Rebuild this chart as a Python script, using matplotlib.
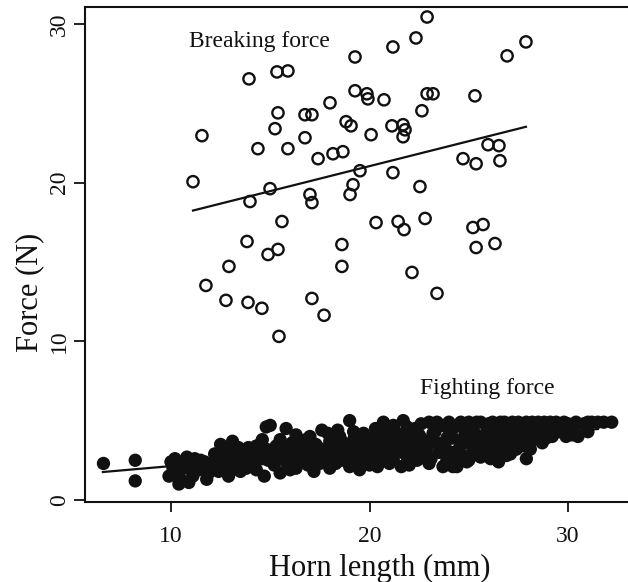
import matplotlib
matplotlib.use("Agg")
import matplotlib.pyplot as plt

# Breaking force (open circles)
break_x = [19.27, 13.93, 15.34, 15.89, 19.27, 18.01, 15.39, 16.75, 17.10, 18.82,
           19.07, 11.56, 15.24, 16.75, 14.38, 15.89, 17.41, 18.16, 18.66, 11.11,
           19.52, 22.90, 22.34, 21.18, 27.88, 26.93, 19.87, 19.92, 20.73, 22.90,
           23.20, 25.31, 22.64, 21.13, 21.69, 21.79, 21.69, 20.08, 25.97, 26.52,
           24.71, 25.37, 26.57, 21.18, 14.99, 13.98, 17.00, 17.10, 19.17, 19.02,
           15.59, 13.83, 14.89, 15.39, 12.92, 18.61, 18.61, 11.76, 12.77, 13.88,
           14.58, 17.10, 17.71, 15.44, 22.54, 20.33, 21.44, 21.74, 22.80, 25.21,
           25.72, 25.37, 26.32, 22.14, 23.40]
break_y = [27.92, 26.54, 26.98, 27.04, 25.79, 25.03, 24.40, 24.28, 24.28, 23.84,
           23.58, 22.96, 23.40, 22.83, 22.14, 22.14, 21.51, 21.82, 21.95, 20.06,
           20.75, 30.44, 29.12, 28.55, 28.87, 27.99, 25.60, 25.28, 25.22, 25.60,
           25.60, 25.47, 24.53, 23.58, 23.65, 23.33, 22.89, 23.02, 22.39, 22.33,
           21.51, 21.19, 21.38, 20.63, 19.62, 18.81, 19.25, 18.74, 19.87, 19.25,
           17.55, 16.29, 15.47, 15.79, 14.72, 16.10, 14.72, 13.52, 12.58, 12.45,
           12.08, 12.70, 11.64, 10.31, 19.75, 17.48, 17.55, 17.04, 17.74, 17.17,
           17.36, 15.91, 16.16, 14.34, 13.02]

# Fighting force (filled circles)
fight_x = [6.6, 8.2, 8.2,
           9.9, 10.0, 10.1, 10.3, 10.4, 10.5, 10.7, 10.8, 10.9, 11.0, 11.1, 11.3, 11.5, 11.6, 11.8, 11.9,
           12.1, 12.3, 12.4, 12.5, 12.6, 12.7, 12.9, 13.0, 13.1, 13.1, 13.3, 13.4, 13.6, 13.7, 13.8,
           14.0, 14.1, 14.2, 14.4, 14.5, 14.6, 14.7, 14.8, 14.9, 15.0, 15.0,
           15.2, 15.3, 15.5, 15.6, 15.8, 15.9, 16.0, 16.1, 16.3, 16.4, 16.5, 16.7, 16.8, 16.9, 17.0,
           17.2, 17.3, 17.5, 17.6, 17.7, 17.8, 18.0, 18.1, 18.2, 18.4, 18.5, 18.6, 18.7, 18.9, 19.0,
           19.1, 19.2, 19.4, 19.5, 19.6, 19.7, 19.8, 19.9,
           20.0, 20.2, 20.3, 20.4, 20.5, 20.7, 20.8, 20.9, 21.0, 21.2, 21.3, 21.4, 21.6, 21.7, 21.8,
           21.9, 22.0, 22.2, 22.3, 22.4, 22.6, 22.7, 22.9, 23.0, 23.1, 23.2, 23.4, 23.5, 23.6, 23.7,
           23.8, 23.9, 24.0, 24.2, 24.2, 24.4, 24.5, 24.6, 24.7, 24.8, 24.9,
           25.0, 25.1, 25.2, 25.4, 25.5, 25.6, 25.6, 25.8, 25.9, 26.0, 26.2, 26.3, 26.5, 26.5, 26.7,
           26.8, 26.9, 27.0, 27.2, 27.4, 27.5, 27.6, 27.8, 27.9, 28.0, 28.2, 28.3, 28.5, 28.7, 28.8,
           29.0, 29.2, 29.4, 29.6, 29.9, 30.0,
           30.3, 30.5, 30.8, 31.0, 31.2, 31.5, 31.8, 32.2,
           10.2, 10.6, 11.2, 11.4, 10.4, 11.7,
           12.2, 12.8, 13.2, 13.5, 13.9, 14.3, 14.6, 12.9, 13.5, 14.3, 14.8, 12.5,
           15.1, 15.4, 15.7, 15.8, 16.2, 16.4, 16.6, 16.9, 17.1, 17.3, 17.6, 17.9, 18.2, 18.3, 18.6,
           18.8, 19.0, 19.3, 19.5, 19.8, 15.5, 16.3, 17.0, 17.9, 19.2, 18.4, 16.0, 17.2, 18.0, 19.0,
           20.1, 20.4, 20.6, 20.9, 21.1, 21.3, 21.5, 21.8, 22.0, 22.1, 22.4, 22.5, 22.8, 23.0, 23.1,
           23.3, 23.6, 23.9, 24.1, 24.3, 24.4, 24.6, 24.9, 24.8, 20.3, 20.6, 21.2, 21.9, 22.6, 23.4,
           24.0, 20.0, 21.0, 22.0, 23.0, 23.8,
           25.1, 25.3, 25.3, 25.7, 25.9, 26.1, 26.2, 26.4, 26.6, 26.8, 27.0, 27.1, 27.3, 27.6, 27.7,
           28.0, 28.1, 28.4, 28.6, 28.9, 29.1, 29.3, 29.7, 30.1, 25.0, 25.4, 26.0, 26.6, 27.2, 27.9,
           28.5, 29.1, 29.8, 30.4, 31.0, 30.2]
fight_y = [2.3, 2.5, 1.2,
           1.5, 2.4, 2.0, 1.7, 2.2, 1.3, 2.5, 2.7, 1.1, 1.9, 1.5, 2.3, 2.5, 2.0, 1.3, 1.7,
           2.2, 2.6, 1.8, 3.5, 3.0, 2.3, 2.0, 2.7, 3.7, 1.9, 2.4, 3.3, 2.9, 2.2, 2.0,
           2.6, 3.1, 2.3, 2.8, 3.5, 3.8, 1.5, 4.6, 2.5, 4.7, 3.0,
           2.2, 3.4, 1.7, 2.7, 4.5, 3.0, 2.4, 3.6, 2.0, 2.9, 3.3, 2.5, 3.8, 2.2, 3.1,
           2.7, 3.5, 2.3, 4.4, 3.0, 2.6, 3.7, 2.4, 3.2, 2.8, 4.0, 2.5, 3.4, 3.0, 5.0,
           2.7, 3.8, 2.3, 1.9, 3.3, 4.2, 2.9, 3.6,
           2.6, 3.9, 3.1, 2.1, 3.5, 4.9, 2.8, 4.3, 3.3, 2.5, 3.8, 3.0, 2.1, 5.0, 4.1,
           2.7, 3.5, 3.1, 4.5, 2.5, 3.9, 2.9, 3.3, 4.9, 2.6, 4.2, 3.6, 3.0, 4.7, 2.1,
           3.4, 2.6, 4.4, 3.9, 2.1, 2.1, 3.2, 4.9, 2.8, 4.1, 3.6,
           2.5, 4.6, 3.3, 3.9, 2.8, 4.9, 2.7, 3.5, 4.3, 3.0, 4.9, 3.7, 2.4, 4.1, 3.3,
           4.9, 2.8, 4.5, 3.6, 3.2, 4.9, 4.0, 3.4, 2.6, 4.6, 4.9, 3.8, 4.2, 3.6, 4.9,
           4.4, 4.0, 4.9, 4.3, 4.0, 4.8,
           4.5, 4.0, 4.8, 4.3, 4.9, 4.9, 4.9, 4.9,
           2.6, 2.0, 2.6, 1.9, 1.0, 2.4,
           2.9, 3.2, 2.9, 2.6, 3.3, 3.4, 2.6, 1.5, 1.8, 1.9, 3.2, 2.1,
           2.7, 3.0, 3.3, 2.4, 3.1, 2.3, 3.7, 2.9, 3.4, 2.5, 3.2, 2.8, 3.5, 2.3, 3.7,
           2.7, 3.3, 3.0, 3.9, 2.5, 3.8, 4.1, 4.0, 4.2, 4.3, 4.4, 1.9, 1.8, 2.0, 2.1,
           3.3, 3.7, 2.6, 3.6, 2.9, 4.3, 3.4, 2.9, 3.9, 2.6, 3.6, 4.1, 3.1, 2.7, 3.8,
           4.3, 3.2, 3.9, 3.0, 4.6, 2.7, 3.5, 2.4, 4.7, 4.5, 4.1, 4.7, 4.6, 4.8, 4.9,
           4.9, 2.2, 2.3, 2.2, 2.3, 2.2,
           3.6, 3.0, 4.2, 3.2, 3.9, 2.6, 3.4, 4.5, 2.9, 3.7, 4.1, 2.9, 4.5, 3.6, 4.3,
           3.9, 3.2, 4.6, 4.0, 3.9, 4.6, 4.2, 4.6, 4.2, 4.9, 4.9, 4.8, 4.9, 4.9, 4.9,
           4.9, 4.9, 4.9, 4.9, 4.9, 4.1]

# Regression line end points
break_line_x = [11.11, 27.88]
break_line_y = [18.24, 23.52]
fight_line_x = [6.57, 31.5]
fight_line_y = [1.76, 4.47]

x_ticks = [10, 20, 30]
y_ticks = [0, 10, 20, 30]

plt.rcParams['font.family'] = ['Liberation Serif', 'DejaVu Serif']

fig = plt.figure(figsize=(6.28, 5.82), dpi=100)
ax = fig.add_axes([85 / 628, 80 / 582, (628 - 85) / 628, 495 / 582])

ink = '#111111'
ax.scatter(fight_x, fight_y, s=92, color=ink, edgecolors='none', zorder=3)
ax.scatter(break_x, break_y, s=66, facecolors='none', edgecolors=ink, linewidths=1.7, zorder=3)
ax.plot(break_line_x, break_line_y, color=ink, lw=1.6, zorder=4)
ax.plot(fight_line_x, fight_line_y, color=ink, lw=1.6, zorder=4)

ax.set_xlim(5.67, 33.02)
ax.set_ylim(-0.13, 31.07)

ax.spines['right'].set_visible(False)
for side in ['left', 'bottom', 'top']:
    ax.spines[side].set_linewidth(1.5)
    ax.spines[side].set_color(ink)

ax.set_xticks(x_ticks)
ax.set_yticks(y_ticks)
ax.tick_params(axis='x', direction='out', length=7, width=1.3, pad=10, labelsize=17, colors=ink)
ax.tick_params(axis='y', direction='out', length=8, width=1.3, pad=3, labelsize=17, colors=ink)
for lbl in ax.get_yticklabels():
    lbl.set_rotation(90)
    lbl.set_va('center')

ax.set_xlabel('Horn length (mm)', fontsize=22, color=ink)
ax.set_ylabel('Force (N)', fontsize=22, color=ink)
ax.xaxis.set_label_coords(0.543, -0.105)
ax.yaxis.set_label_coords(-0.076, 0.424)

ax.text(10.9, 28.55, 'Breaking force', fontsize=17, color=ink, ha='left', va='baseline')
ax.text(22.54, 6.67, 'Fighting force', fontsize=17, color=ink, ha='left', va='baseline')

fig.savefig('out.png', dpi=100)
